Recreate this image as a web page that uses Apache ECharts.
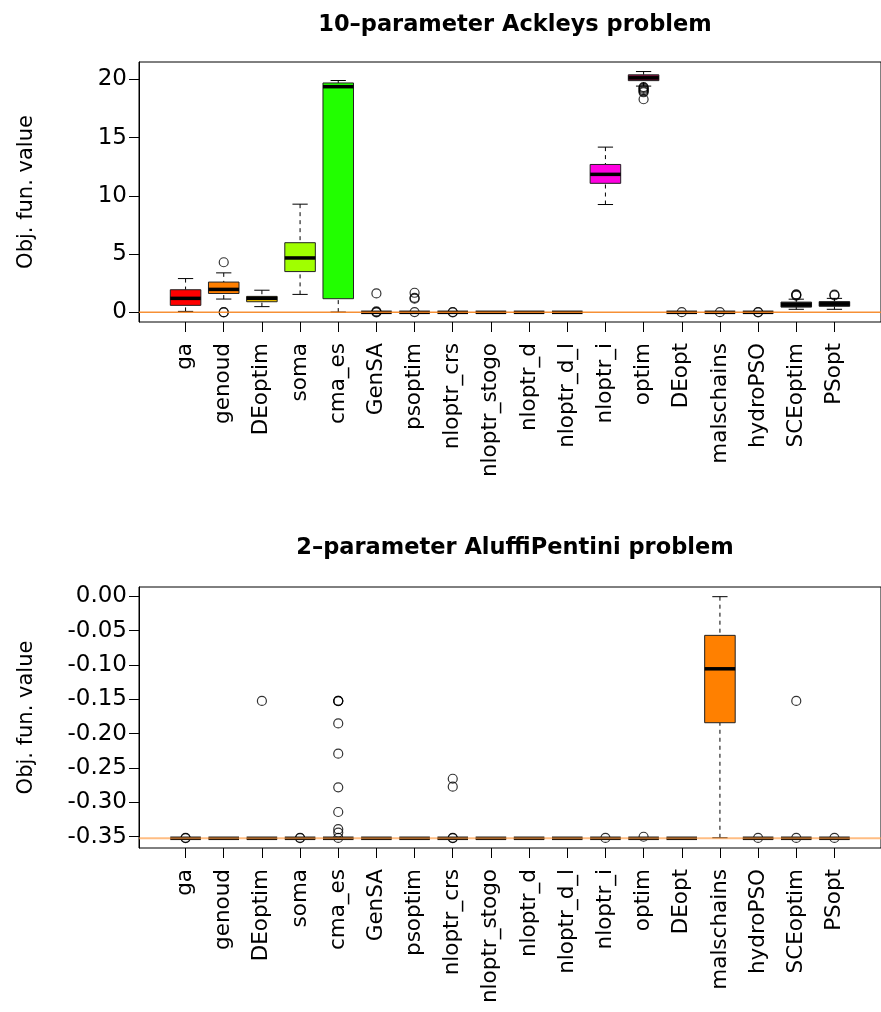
<!DOCTYPE html>
<html>
<head>
<meta charset="utf-8">
<script src="https://cdn.jsdelivr.net/npm/echarts@6/dist/echarts.min.js"></script>
<style>
html, body { margin: 0; padding: 0; background: #fff; }
#main { width: 881px; height: 1012px; }
</style>
</head>
<body>
<div id="main"></div>
<script>
var methods = ['ga', 'genoud', 'DEoptim', 'soma', 'cma_es', 'GenSA', 'psoptim',
    'nloptr_crs', 'nloptr_stogo', 'nloptr_d', 'nloptr_d_l', 'nloptr_i', 'optim',
    'DEopt', 'malschains', 'hydroPSO', 'SCEoptim', 'PSopt'];

// [lower whisker, Q1, median, Q3, upper whisker] per method
var ackleyStats = [
    [0.08, 0.6, 1.2, 1.94, 2.9],
    [1.14, 1.62, 1.97, 2.6, 3.39],
    [0.49, 0.91, 1.2, 1.37, 1.9],
    [1.54, 3.5, 4.67, 5.98, 9.29],
    [0.02, 1.17, 19.38, 19.7, 19.91],
    [0, 0, 0, 0, 0],
    [0, 0, 0, 0, 0],
    [0, 0, 0, 0, 0],
    [0, 0, 0, 0, 0],
    [0, 0, 0, 0, 0],
    [0, 0, 0, 0, 0],
    [9.26, 11.08, 11.85, 12.7, 14.19],
    [19.43, 19.9, 20.14, 20.4, 20.68],
    [0, 0, 0, 0, 0],
    [0, 0, 0, 0, 0],
    [0, 0, 0, 0, 0],
    [0.26, 0.45, 0.66, 0.88, 1.13],
    [0.26, 0.52, 0.72, 0.92, 1.2]
];
// [method number, value]
var ackleyOutliers = [
    [2, 4.3], [2, 0.01], [2, 0.0],
    [6, 1.62], [6, 0.0], [6, 0.03], [6, 0.08],
    [7, 1.68], [7, 1.25], [7, 1.17], [7, 0.02],
    [8, 0.0], [8, 0.03],
    [13, 19.35], [13, 19.27], [13, 19.18], [13, 19.08], [13, 18.98], [13, 18.9], [13, 18.3],
    [14, 0.01], [15, 0.01], [16, 0.0], [16, 0.03],
    [17, 1.55], [17, 1.5], [17, 1.44],
    [18, 1.52], [18, 1.45]
];
var ackleyColors = ['#FF0000', '#FF7F00', '#FFD000', '#A0FF00', '#22FF00', '#00FF55',
    '#00FFAA', '#00FFFF', '#00AAFF', '#0055FF', '#0000FF', '#FF00E0', '#8A1040',
    '#5500FF', '#AA00FF', '#FF00AA', '#1A1A1A', '#1A1A1A'];
var ackleyOptimum = 0;
var ackleyTicks = [0, 5, 10, 15, 20];

var aluffiStats = [];
for (var k = 0; k < methods.length; k++) {
    aluffiStats.push([-0.3523, -0.3523, -0.3523, -0.3523, -0.3523]);
}
aluffiStats[14] = [-0.3515, -0.184, -0.1055, -0.0568, -0.0005];
var aluffiOutliers = [
    [1, -0.3520], [1, -0.3516],
    [3, -0.1523],
    [4, -0.3520], [4, -0.3515],
    [5, -0.1521], [5, -0.1523], [5, -0.1525], [5, -0.185], [5, -0.229], [5, -0.278],
    [5, -0.314], [5, -0.339], [5, -0.344], [5, -0.3518],
    [8, -0.2656], [8, -0.2771], [8, -0.3520], [8, -0.3516],
    [12, -0.3518],
    [13, -0.3500],
    [16, -0.3518],
    [17, -0.1523], [17, -0.3518],
    [18, -0.3518]
];
var aluffiColors = methods.map(function () { return '#FF8000'; });
var aluffiOptimum = -0.3523;
var aluffiTicks = [0, -0.05, -0.1, -0.15, -0.2, -0.25, -0.3, -0.35];

var FONT = 'DejaVu Sans';
var X_MIN = -0.22, X_MAX = 19.22;
var positions = methods.map(function (m, i) { return i + 1; });

function boxRenderer(colors) {
    return function (params, api) {
        var x = api.value(0);
        var lo = api.coord([x, api.value(1)]);
        var q1 = api.coord([x, api.value(2)]);
        var md = api.coord([x, api.value(3)]);
        var q3 = api.coord([x, api.value(4)]);
        var hi = api.coord([x, api.value(5)]);
        var half = api.size([0.8, 0])[0] / 2;
        var cap = half / 2;
        var dash = { stroke: '#000', lineWidth: 1, lineDash: [4, 4] };
        var solid = { stroke: '#000', lineWidth: 1 };
        return {
            type: 'group',
            children: [
                { type: 'line', shape: { x1: lo[0], y1: lo[1], x2: q1[0], y2: q1[1] }, style: dash },
                { type: 'line', shape: { x1: hi[0], y1: hi[1], x2: q3[0], y2: q3[1] }, style: dash },
                { type: 'line', shape: { x1: lo[0] - cap, y1: lo[1], x2: lo[0] + cap, y2: lo[1] }, style: solid },
                { type: 'line', shape: { x1: hi[0] - cap, y1: hi[1], x2: hi[0] + cap, y2: hi[1] }, style: solid },
                { type: 'rect', shape: { x: q3[0] - half, y: q3[1], width: half * 2, height: q1[1] - q3[1] },
                  style: { fill: colors[params.dataIndex], stroke: '#222', lineWidth: 1 } },
                { type: 'line', shape: { x1: md[0] - half, y1: md[1], x2: md[0] + half, y2: md[1] },
                  style: { stroke: '#000', lineWidth: 3.5 } }
            ]
        };
    };
}

function xAxisFor(idx) {
    return {
        gridIndex: idx, type: 'value', min: X_MIN, max: X_MAX,
        splitLine: { show: false },
        axisLine: { show: false, onZero: false },
        axisTick: { show: true, customValues: positions, length: 10, lineStyle: { color: '#000' } },
        axisLabel: {
            customValues: positions, rotate: 90, margin: 21, color: '#000',
            fontFamily: FONT, fontSize: 21.5, hideOverlap: false,
            formatter: function (v) { return methods[Math.round(v) - 1] || ''; }
        }
    };
}

function yAxisFor(idx, min, max, ticks, digits) {
    return {
        gridIndex: idx, type: 'value', min: min, max: max,
        name: 'Obj. fun. value', nameLocation: 'middle', nameGap: 102,
        nameTextStyle: { fontFamily: FONT, fontSize: 21, color: '#000' },
        splitLine: { show: false },
        axisLine: { show: true, onZero: false, lineStyle: { color: '#000' } },
        axisTick: { show: true, customValues: ticks, length: 10, lineStyle: { color: '#000' } },
        axisLabel: {
            customValues: ticks, margin: 12, color: '#000', fontFamily: FONT, fontSize: 23,
            formatter: function (v) { return digits ? v.toFixed(digits) : String(v); }
        }
    };
}

function boxSeries(idx, stats, colors) {
    return {
        type: 'custom', xAxisIndex: idx, yAxisIndex: idx, z: 2,
        renderItem: boxRenderer(colors),
        encode: { x: 0, y: [1, 2, 3, 4, 5] },
        data: stats.map(function (s, i) { return [i + 1].concat(s); })
    };
}

function outlierSeries(idx, outliers) {
    return {
        type: 'scatter', xAxisIndex: idx, yAxisIndex: idx, z: 3,
        symbol: 'circle', symbolSize: 9,
        itemStyle: { color: 'rgba(0,0,0,0)', borderColor: '#000', borderWidth: 1.2 },
        data: outliers
    };
}

// horizontal reference line at the known global optimum
function optimumSeries(idx, optimum, lineStyle) {
    return {
        type: 'line', xAxisIndex: idx, yAxisIndex: idx, z: 4,
        symbol: 'none', silent: true, lineStyle: lineStyle,
        data: [[X_MIN, optimum], [X_MAX, optimum]]
    };
}

var myChart = echarts.init(document.getElementById('main'));

var option = {
    backgroundColor: '#fff',
    animation: false,
    title: [
        { text: '10\u2013parameter Ackleys problem', left: 510, top: 9, textAlign: 'center',
          textStyle: { fontFamily: FONT, fontWeight: 'bold', fontSize: 22.5, color: '#000' } },
        { text: '2\u2013parameter AluffiPentini problem', left: 510, top: 532, textAlign: 'center',
          textStyle: { fontFamily: FONT, fontWeight: 'bold', fontSize: 22.5, color: '#000' } }
    ],
    grid: [
        { left: 139, right: -11, top: 62, height: 260, show: true, borderColor: '#000', borderWidth: 1 },
        { left: 139, right: -11, top: 587, height: 261, show: true, borderColor: '#000', borderWidth: 1 }
    ],
    xAxis: [xAxisFor(0), xAxisFor(1)],
    yAxis: [
        yAxisFor(0, -0.83, 21.5, ackleyTicks, 0),
        yAxisFor(1, -0.3664, 0.0136, aluffiTicks, 2)
    ],
    series: [
        boxSeries(0, ackleyStats, ackleyColors),
        outlierSeries(0, ackleyOutliers),
        optimumSeries(0, ackleyOptimum, { color: '#F5841F', width: 1.5, opacity: 0.9 }),
        boxSeries(1, aluffiStats, aluffiColors),
        outlierSeries(1, aluffiOutliers),
        optimumSeries(1, aluffiOptimum, { color: '#FF9A40', width: 2, opacity: 0.65 })
    ]
};

myChart.setOption(option);
</script>
</body>
</html>
